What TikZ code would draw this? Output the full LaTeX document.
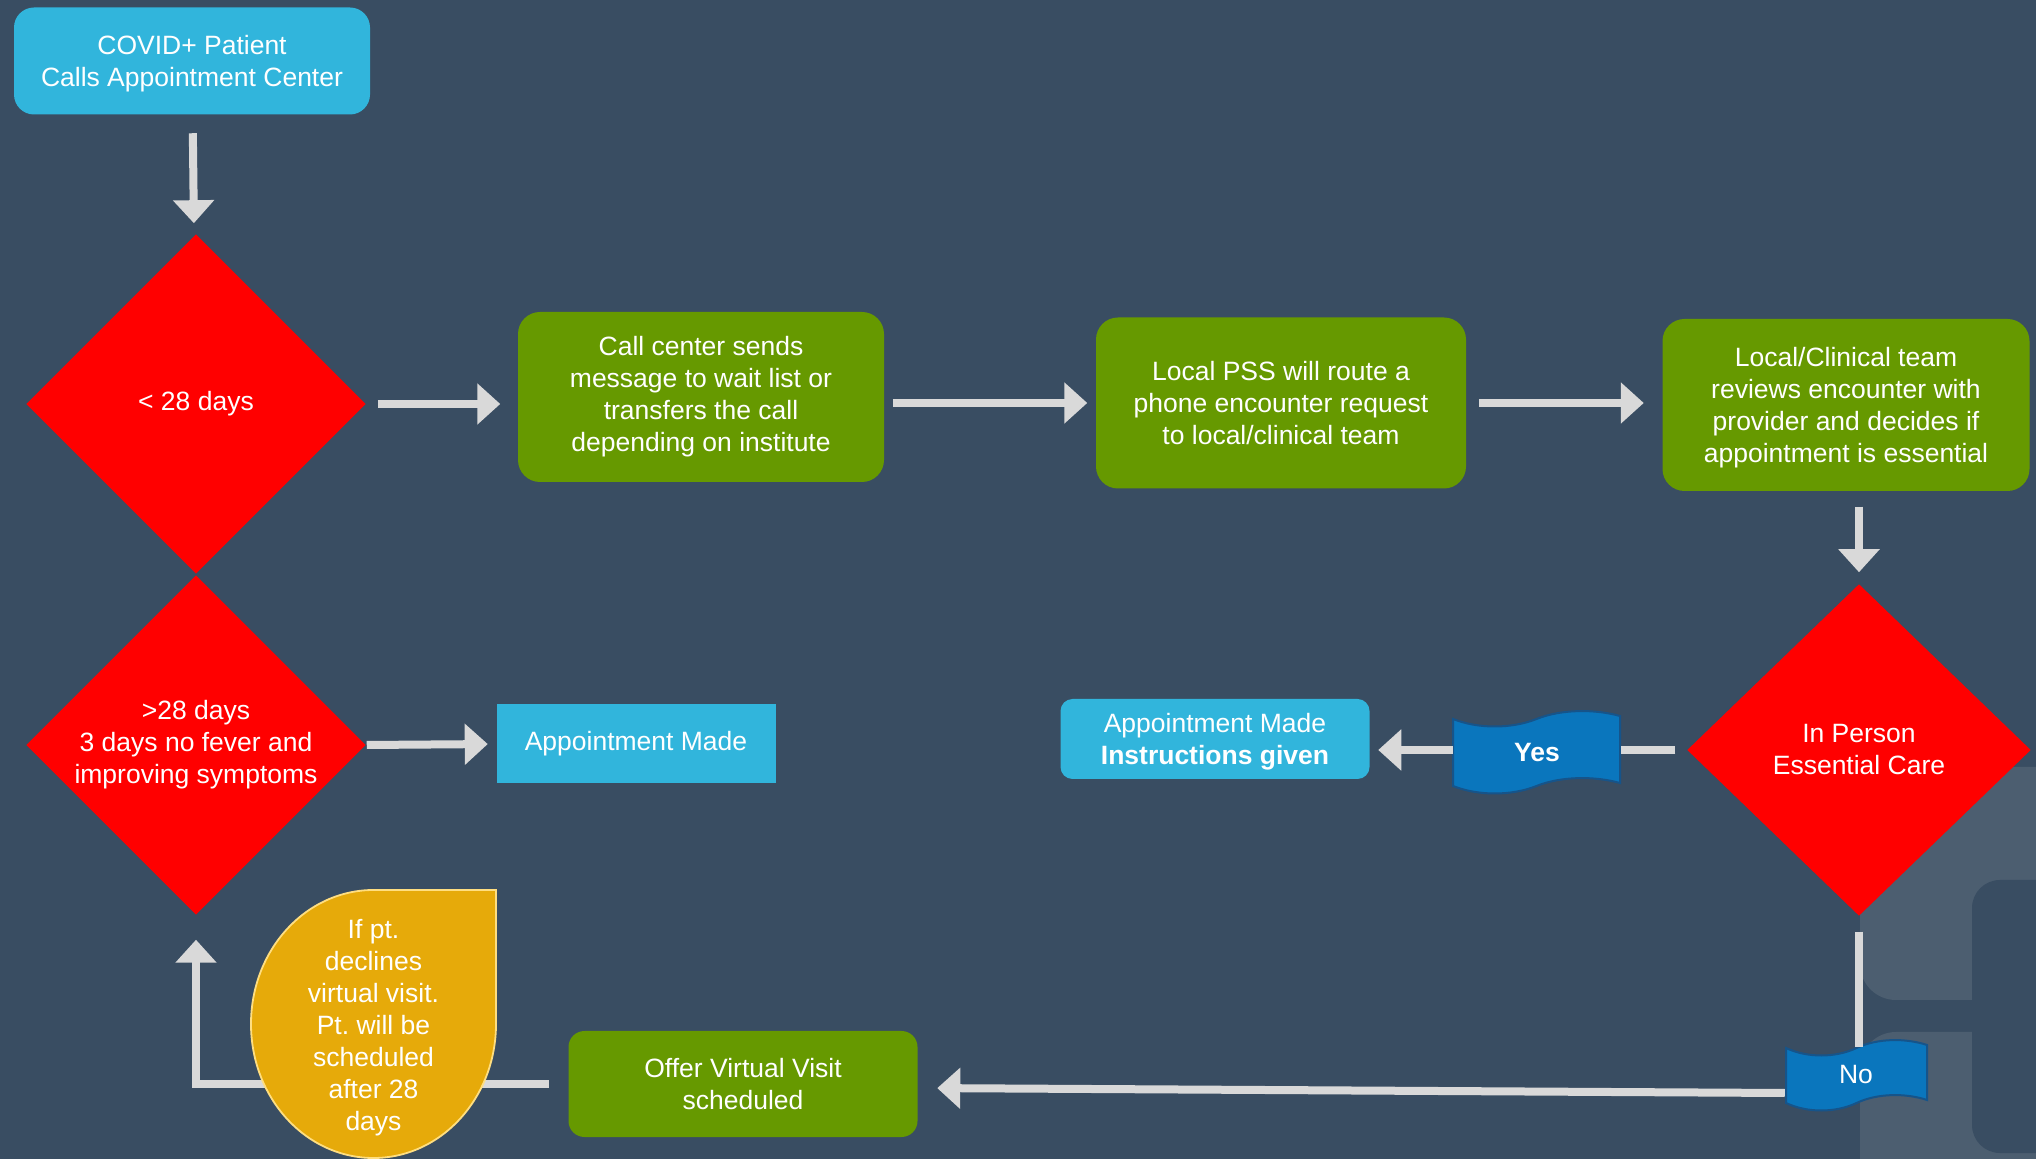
\documentclass[tikz,border=0pt]{standalone}
\usepackage{fontspec}
\setmainfont{Liberation Sans}
\frenchspacing
\usetikzlibrary{shapes.geometric}
\usetikzlibrary{arrows.meta}
\usetikzlibrary{calc}
\tikzset{every picture/.style={line width=0.75pt}}
\tikzset{
  bgfill/.style={fill={rgb, 255:red, 57; green, 77; blue, 98 }},
  logofill/.style={fill={rgb, 255:red, 76; green, 94; blue, 112 }},
  txt/.style={text={rgb, 255:red, 255; green, 255; blue, 255 }, align=center, inner sep=0pt, font=\fontsize{13.25}{16}\selectfont},
  bluebox/.style={txt, fill={rgb, 255:red, 49; green, 181; blue, 220 }},
  greenbox/.style={txt, fill={rgb, 255:red, 102; green, 153; blue, 0 }, rounded corners=11pt},
  decision/.style={txt, diamond, fill={rgb, 255:red, 255; green, 0; blue, 0 }, minimum width=170pt, minimum height=170pt},
  conn/.style={draw={rgb, 255:red, 217; green, 217; blue, 217 }, line width=4pt},
  arrowconn/.style={conn, -{Triangle[width=20pt,length=11.5pt]}},
  flag/.style={fill={rgb, 255:red, 10; green, 118; blue, 189 }, draw={rgb, 255:red, 22; green, 84; blue, 138 }, line width=1pt},
  drop/.style={fill={rgb, 255:red, 230; green, 170; blue, 10 }, draw={rgb, 255:red, 255; green, 222; blue, 128 }, line width=0.9pt}
}
% wave shaped label: left x, top y, width, height
\newcommand{\flagshape}[4]{%
  \draw[flag] (#1,#2) .. controls (#1+0.15*#3,#2+10) and (#1+0.35*#3,#2+10) .. (#1+0.5*#3,#2)
    .. controls (#1+0.65*#3,#2-10) and (#1+0.85*#3,#2-10) .. (#1+#3,#2-3)
    -- (#1+#3,#2+#4-3)
    .. controls (#1+0.85*#3,#2+#4-10) and (#1+0.65*#3,#2+#4-10) .. (#1+0.5*#3,#2+#4)
    .. controls (#1+0.35*#3,#2+#4+10) and (#1+0.15*#3,#2+#4+10) .. (#1,#2+#4) -- cycle ;}

\begin{document}
\begin{tikzpicture}[x=0.5pt,y=0.5pt,yscale=-1,xscale=1]
%Shape: Background
\fill[bgfill] (0,0) rectangle (2036,1159) ;
\useasboundingbox (0,0) rectangle (2036,1159) ;
%Shape: Logo in the corner
\begin{scope}
\clip (0,0) rectangle (2036,1159) ;
\fill[logofill, rounded corners=18pt] (1860,767) rectangle (2200,1000) ;
\fill[logofill, rounded corners=18pt] (1860,1032) rectangle (2200,1300) ;
\fill[bgfill, rounded corners=14pt] (1972,880) rectangle (2200,1153) ;
\end{scope}

% Boxes
\node[bluebox, rounded corners=10pt, minimum width=178pt, minimum height=53.5pt, text depth=0pt] (start) at (192,61) {COVID+ Patient\\Calls Appointment Center};
\node[greenbox, minimum width=183pt, minimum height=85pt] (callctr) at (701,397) {Call center sends\\message to wait list or\\transfers the call\\depending on institute};
\node[greenbox, minimum width=185pt, minimum height=85.5pt] (pss) at (1281,403) {Local PSS will route a\\phone encounter request\\to local/clinical team};
\node[greenbox, minimum width=183.5pt, minimum height=86pt, text depth=0pt] (team) at (1846,405) {Local/Clinical team\\reviews encounter with\\provider and decides if\\appointment is essential};
\node[bluebox, minimum width=139.5pt, minimum height=39.5pt] (made) at (636,744) {Appointment Made};
\node[bluebox, rounded corners=6pt, minimum width=154.5pt, minimum height=40pt, text depth=0pt] (instr) at (1215,739) {Appointment Made\\\textbf{Instructions given}};
\node[greenbox, rounded corners=8pt, minimum width=174.5pt, minimum height=53pt] (offer) at (743,1084) {Offer Virtual Visit\\scheduled};

% Decisions
\node[decision] (lt28) at (196,404) {< 28 days};
\node[decision] (gt28) at (196,745) {>28 days\\3 days no fever and\\improving symptoms};
\node[decision, minimum width=172pt, minimum height=166pt] (inperson) at (1859,750) {In Person\\Essential Care};

% Yes / No labels
\flagshape{1453}{719}{167}{67}
\node[txt, minimum width=83.5pt, minimum height=33.5pt] (yes) at (1537,753) {\textbf{Yes}};
\flagshape{1786}{1048}{141}{55}
\node[txt, minimum width=70.5pt, minimum height=27.5pt] (no) at (1856,1075) {No};

% Connectors
\draw[arrowconn, shorten <=9pt, shorten >=6pt] (start) -- (lt28);
\draw[arrowconn, shorten <=5.5pt, shorten >=8.5pt] (lt28.east) -- (lt28.east -| callctr.west);
\draw[arrowconn, shorten <=4pt, shorten >=4pt] (callctr.east |- pss) -- (pss.west);
\draw[arrowconn, shorten <=6pt, shorten >=9pt] (pss.east) -- (pss.east -| team.west);
\draw[arrowconn, shorten <=7.5pt, shorten >=5.5pt] (team.south -| inperson) -- (inperson.north);
\draw[conn, shorten <=5.5pt] (inperson.west) -- (inperson.west -| yes.east);
\draw[arrowconn, shorten >=4pt] (yes.west |- inperson.west) -- (instr.east |- inperson.west);
\draw[conn, shorten <=7.5pt] (inperson.south) -- (inperson.south |- no.north);
\draw[arrowconn, shorten >=9.5pt] ($(no.west)+(0,18)$) -- ($(offer.east)+(0,4)$);
\draw[arrowconn, shorten >=4pt] (gt28.east) -- (made.west);
\draw[arrowconn, shorten <=9.5pt, shorten >=12pt] (offer.west) -- (offer.west -| gt28.south) -- (gt28.south);

%Shape: Teardrop
\draw[drop] (496,890) -- (496,1024) arc[start angle=0, end angle=270, x radius=122.5, y radius=134] -- cycle ;
% Text Node
\node[txt] (decline) at (373.5,1028) {If pt.\\declines\\virtual visit.\\Pt. will be\\scheduled\\after 28\\days};

\end{tikzpicture}
\end{document}
